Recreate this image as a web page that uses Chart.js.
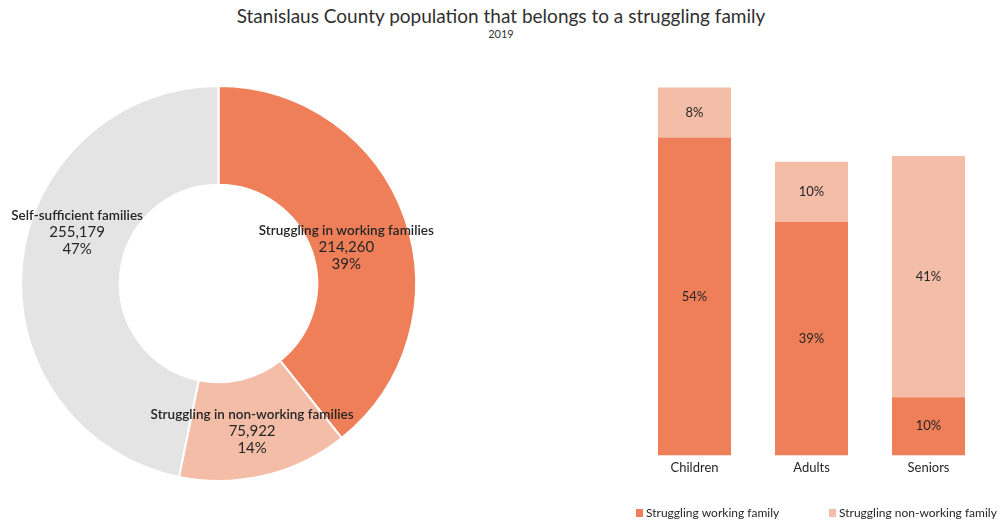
<!DOCTYPE html>
<html>
<head>
<meta charset="utf-8">
<script src="https://cdn.jsdelivr.net/npm/chart.js@4/dist/chart.umd.min.js"></script>
<style>
  html, body { margin: 0; padding: 0; background: #fff; }
  body { width: 1002px; height: 522px; position: relative; overflow: hidden; font-family: Lato, "Open Sans", sans-serif; color: #262626; }
  #title { position: absolute; left: 0; top: 4px; width: 1002px; text-align: center; font-size: 19px; font-weight: 400; line-height: 24px; color: #303030; }
  #subtitle { position: absolute; left: 0; top: 27px; width: 1002px; text-align: center; font-size: 11px; font-weight: 400; line-height: 13px; color: #333; }
  #donutWrap { position: absolute; left: 0; top: 60px; width: 440px; height: 450px; }
  #barWrap { position: absolute; left: 634px; top: 60px; width: 368px; height: 462px; }
</style>
</head>
<body>
<div id="title">Stanislaus County population that belongs to a struggling family</div>
<div id="subtitle">2019</div>
<div id="donutWrap"><canvas id="donut" width="440" height="450"></canvas></div>
<div id="barWrap"><canvas id="bar" width="368" height="462"></canvas></div>
<script>
// ---- data ----
const segmentLabels = ['Struggling in working families', 'Struggling in non-working families', 'Self-sufficient families'];
const segmentCounts = [214260, 75922, 255179];
const segmentPercents = [39, 14, 47];

const categories = ['Children', 'Adults', 'Seniors'];
const workingShare = [53.5, 39.3, 9.8];
const nonWorkingShare = [8.4, 10.1, 40.6];
const seriesNames = ['Struggling working family', 'Struggling non-working family'];

// ---- styles ----
const ORANGE = '#EE7F59';
const LIGHT = '#F4BDA8';
const GREY = '#E4E4E4';
const TEXT = '#262626';
const FONT = 'Lato, "Open Sans", sans-serif';

// label offsets from each arc's midpoint (layout only)
const donutLabelShift = [[-12, 13], [-1, 4], [6, -36]];

const donutLabels = {
  id: 'donutLabels',
  afterDatasetsDraw(chart) {
    const ctx = chart.ctx;
    const meta = chart.getDatasetMeta(0);
    ctx.save();
    ctx.fillStyle = TEXT;
    ctx.textAlign = 'center';
    ctx.textBaseline = 'middle';
    meta.data.forEach((arc, i) => {
      const p = arc.tooltipPosition();
      const x = p.x + donutLabelShift[i][0];
      const y = p.y + donutLabelShift[i][1];
      ctx.font = '600 13.5px ' + FONT;
      ctx.fillText(segmentLabels[i], x, y - 17);
      ctx.font = '400 15px ' + FONT;
      ctx.fillText(segmentCounts[i].toLocaleString('en-US'), x, y);
      ctx.fillText(segmentPercents[i] + '%', x, y + 17);
    });
    ctx.restore();
  }
};

new Chart(document.getElementById('donut'), {
  type: 'doughnut',
  data: {
    labels: segmentLabels,
    datasets: [{
      data: segmentCounts,
      backgroundColor: [ORANGE, LIGHT, GREY],
      borderColor: '#ffffff',
      borderWidth: 2,
      hoverOffset: 0
    }]
  },
  options: {
    responsive: false,
    animation: false,
    cutout: '50%',
    layout: { padding: { left: 20, top: 25, right: 23, bottom: 28 } },
    plugins: { legend: { display: false }, tooltip: { enabled: false } }
  },
  plugins: [donutLabels]
});

const barLabels = {
  id: 'barLabels',
  afterDatasetsDraw(chart) {
    const ctx = chart.ctx;
    ctx.save();
    ctx.fillStyle = TEXT;
    ctx.font = '400 13px ' + FONT;
    ctx.textAlign = 'center';
    ctx.textBaseline = 'middle';
    chart.data.datasets.forEach((ds, di) => {
      const meta = chart.getDatasetMeta(di);
      meta.data.forEach((bar, i) => {
        const cy = (bar.y + bar.base) / 2;
        ctx.fillText(Math.round(ds.data[i]) + '%', bar.x, cy);
      });
    });
    ctx.restore();
  }
};

// legend drawn below the axis labels, one row, reference spacing
const legendStartShift = [2, 195];
const rowLegend = {
  id: 'rowLegend',
  afterDraw(chart) {
    const ctx = chart.ctx;
    const y = chart.height - 9;
    ctx.save();
    ctx.font = '400 12px ' + FONT;
    ctx.textBaseline = 'middle';
    ctx.textAlign = 'left';
    chart.data.datasets.forEach((ds, i) => {
      const x = legendStartShift[i];
      ctx.fillStyle = ds.backgroundColor;
      ctx.fillRect(x, y - 4, 7, 8);
      ctx.fillStyle = TEXT;
      ctx.fillText(ds.label, x + 10, y);
    });
    ctx.restore();
  }
};

new Chart(document.getElementById('bar'), {
  type: 'bar',
  data: {
    labels: categories,
    datasets: [
      { label: seriesNames[0], data: workingShare, backgroundColor: ORANGE, borderWidth: 0 },
      { label: seriesNames[1], data: nonWorkingShare, backgroundColor: LIGHT, borderWidth: 0 }
    ]
  },
  options: {
    responsive: false,
    animation: false,
    categoryPercentage: 1,
    barPercentage: 0.624,
    layout: { padding: { left: 2, top: 27, right: 15, bottom: 41 } },
    scales: {
      x: {
        stacked: true,
        grid: { display: false, drawTicks: false },
        border: { display: false },
        ticks: { color: TEXT, font: { family: FONT, size: 13 }, padding: 5 }
      },
      y: { stacked: true, display: false, min: 0, max: 62 }
    },
    plugins: {
      legend: { display: false },
      tooltip: { enabled: false }
    }
  },
  plugins: [barLabels, rowLegend]
});
</script>
</body>
</html>
